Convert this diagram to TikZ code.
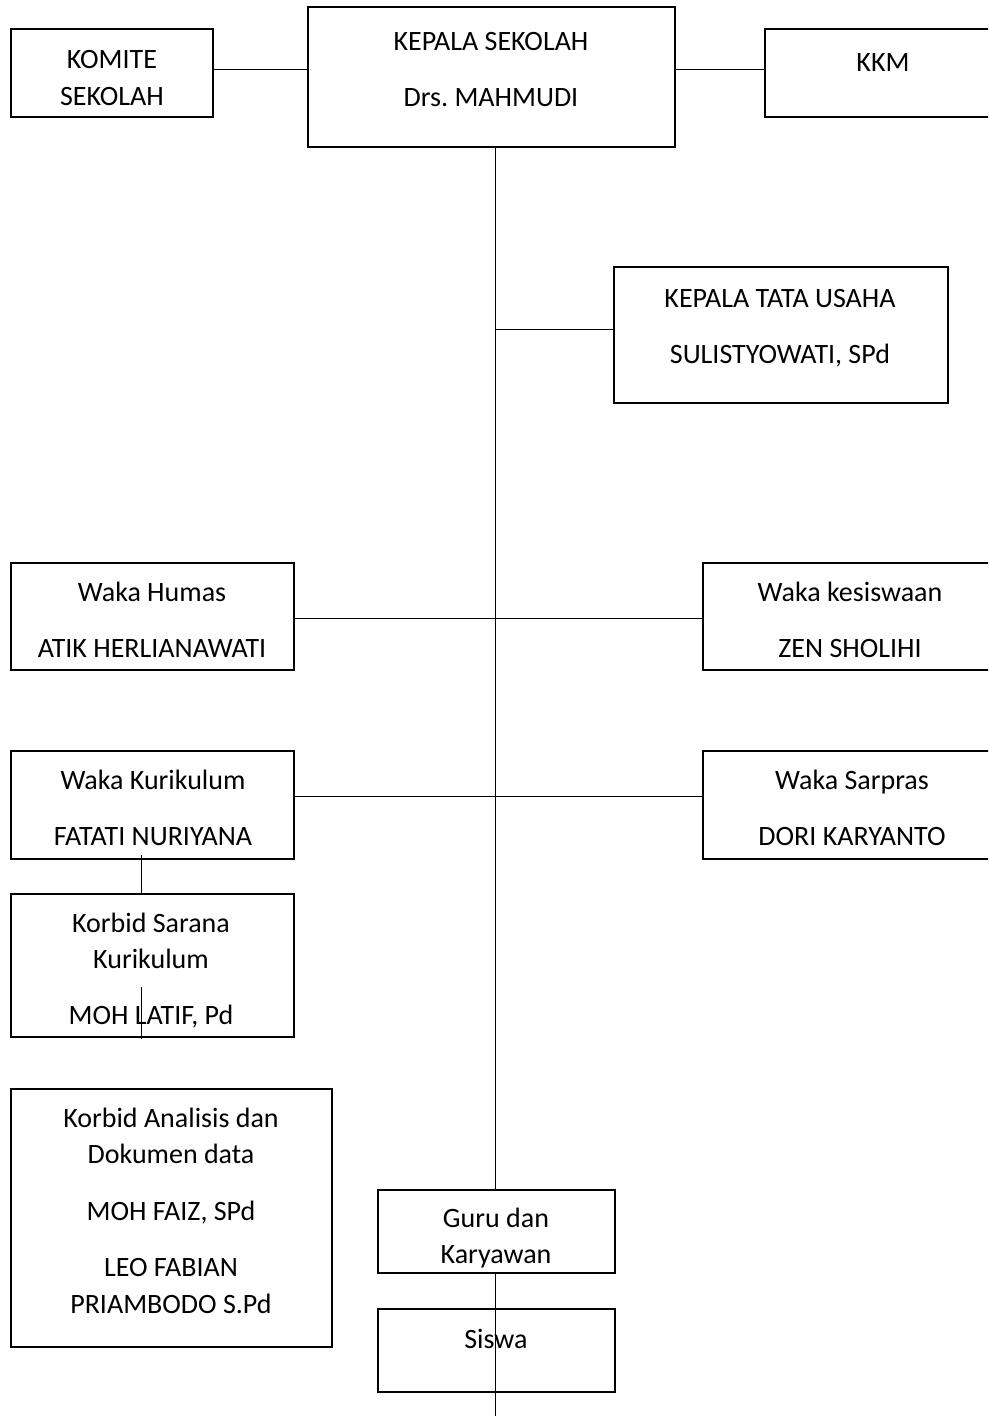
\documentclass[tikz,border=0pt]{standalone}
\usepackage{fontspec}
\setmainfont{Carlito}
\begin{document}
\begin{tikzpicture}[x=1pt,y=-1pt,
  box/.style={draw,line width=1.6pt,rectangle,inner sep=0pt},
  conn/.style={line width=0.8pt},
  txt/.style={anchor=base,inner sep=0pt,font=\fontsize{28}{32}\selectfont}]
\clip (0,0) rectangle (988,1416);
\fill[white] (0,0) rectangle (988,1416);
% boxes
\node[box,minimum width=202pt,minimum height=88pt] (komite) at (112,73) {};
\node[box,minimum width=367pt,minimum height=140pt] (kepala) at (491.5,77) {};
\node[box,minimum width=236pt,minimum height=88pt] (kkm) at (883,73) {};
\node[box,minimum width=334pt,minimum height=136pt] (ktu) at (781,335) {};
\node[box,minimum width=283pt,minimum height=107pt] (humas) at (152.5,616.5) {};
\node[box,minimum width=296pt,minimum height=107pt] (kesis) at (851,616.5) {};
\node[box,minimum width=283pt,minimum height=108pt] (kuri) at (152.5,805) {};
\node[box,minimum width=296pt,minimum height=108pt] (sarpras) at (851,805) {};
\node[box,minimum width=283pt,minimum height=143pt] (sarana) at (152.5,965.5) {};
\node[box,minimum width=321pt,minimum height=258pt] (analisis) at (171.5,1218) {};
% connectors
\coordinate (bottom) at (495,1416);
\coordinate (ktuj) at (495,329);
\draw[conn] (komite.east |- 0,69) -- (kepala.west |- 0,69);
\draw[conn] (kepala.east |- 0,69) -- (kkm.west |- 0,69);
\draw[conn] (kepala.south -| 495,0) -- (bottom);
\draw[conn] (ktuj) -- (ktu.west |- ktuj);
\draw[conn] (humas.east |- 0,618) -- (kesis.west |- 0,618);
\draw[conn] (kuri.east |- 0,796) -- (sarpras.west |- 0,796);
\coordinate (k1) at (141,855);
\coordinate (k2) at (141,987);
\coordinate (k3) at (141,1039);
\draw[conn] (k1) -- (k1 |- sarana.north);
\draw[conn] (k2) -- (k3);
% guru (white filled, hides main line) and siswa
\node[box,fill=white,minimum width=237pt,minimum height=83pt] (guru) at (496.5,1231.5) {};
\node[box,minimum width=237pt,minimum height=83pt] (siswa) at (496.5,1350.5) {};
% texts
\node[txt] at (112,68) {KOMITE};
\node[txt] at (112,105) {SEKOLAH};
\node[txt] at (491,50) {KEPALA SEKOLAH};
\node[txt] at (491,106) {Drs.\ MAHMUDI};
\node[txt] at (883,71) {KKM};
\node[txt] at (780,307) {KEPALA TATA USAHA};
\node[txt] at (780,363) {SULISTYOWATI, SPd};
\node[txt] at (152,601) {Waka Humas};
\node[txt] at (152,657) {ATIK HERLIANAWATI};
\node[txt] at (850,601) {Waka kesiswaan};
\node[txt] at (850,657) {ZEN SHOLIHI};
\node[txt] at (153,789) {Waka Kurikulum};
\node[txt] at (153,845) {FATATI NURIYANA};
\node[txt] at (852,789) {Waka Sarpras};
\node[txt] at (852,845) {DORI KARYANTO};
\node[txt] at (151,932) {Korbid Sarana};
\node[txt] at (151,968) {Kurikulum};
\node[txt] at (151,1024) {MOH LATIF, Pd};
\node[txt] at (171,1127) {Korbid Analisis dan};
\node[txt] at (171,1163) {Dokumen data};
\node[txt] at (171,1220) {MOH FAIZ, SPd};
\node[txt] at (171,1276) {LEO FABIAN};
\node[txt] at (171,1313) {PRIAMBODO S.Pd};
\node[txt] at (496,1227) {Guru dan};
\node[txt] at (496,1263) {Karyawan};
\node[txt] at (496,1348) {Siswa};
\end{tikzpicture}
\end{document}
